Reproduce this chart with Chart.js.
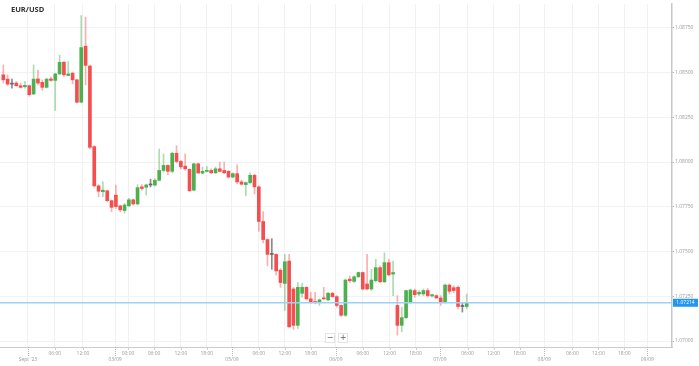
<!DOCTYPE html>
<html>
<head>
<meta charset="utf-8">
<title>EUR/USD</title>
<script src="https://cdn.jsdelivr.net/npm/chart.js@4.4.0/dist/chart.umd.min.js"></script>
<style>
    body { margin: 0; background: #fff; }
    #wrap { position: relative; width: 699px; height: 366px; }
    #title { position: absolute; left: 11px; top: 4px; font: bold 7.5px 'Open Sans', sans-serif; color: #333; }
    .zbtn { position: absolute; top: 333px; width: 8px; height: 8px; background: #fff; border: 1px solid #e4e4e4;
            font: 8px/8px 'DejaVu Sans', sans-serif; text-align: center; color: #666; }
</style>
</head>
<body>
<div id="wrap">
    <canvas id="chart" width="699" height="366"></canvas>
    <div id="title">EUR/USD</div>
    <div class="zbtn" style="left:325px">−</div>
    <div class="zbtn" style="left:338px">+</div>
</div>
<script>
// Mum verileri (saatlik)
const opens = [
    1.08487, 1.08463, 1.08435, 1.08441, 1.08426, 1.0842, 1.08426, 1.0838, 1.08464, 1.08445,
    1.08417, 1.08464, 1.08456, 1.08492, 1.08557, 1.08483, 1.08496, 1.08459, 1.08334, 1.08647,
    1.08536, 1.08086, 1.07867, 1.07834, 1.07839, 1.07784, 1.07815, 1.07755, 1.07729, 1.07756,
    1.07789, 1.07766, 1.07861, 1.07859, 1.07872, 1.07871, 1.07898, 1.07953, 1.07981, 1.07948,
    1.08049, 1.08003, 1.07977, 1.07959, 1.07843, 1.0799, 1.07938, 1.07948, 1.07953, 1.0794,
    1.07962, 1.07953, 1.07948, 1.07916, 1.07935, 1.07889, 1.07874, 1.07885, 1.07926, 1.07861,
    1.07668, 1.07567, 1.07484, 1.07484, 1.07396, 1.07322, 1.07447, 1.07291, 1.07088, 1.07267,
    1.073, 1.07236, 1.07221, 1.07217, 1.07241, 1.0723, 1.07267, 1.07248, 1.07199, 1.07144,
    1.07346, 1.07333, 1.07359, 1.07383, 1.07319, 1.07291, 1.07337, 1.0741, 1.07331, 1.07438,
    1.07374, 1.07199, 1.07088, 1.07131, 1.07217, 1.07282, 1.07263, 1.07263, 1.07282, 1.07252,
    1.07254, 1.07241, 1.07217, 1.07313, 1.07298, 1.073, 1.07193, 1.07193
];
const highs = [
    1.08542, 1.08487, 1.08463, 1.0845, 1.08441, 1.0845, 1.08431, 1.08542, 1.08514, 1.08459,
    1.08468, 1.08474, 1.08496, 1.08597, 1.08561, 1.08561, 1.085, 1.08463, 1.08818, 1.08809,
    1.08542, 1.08091, 1.07874, 1.07889, 1.07843, 1.07788, 1.07871, 1.0776, 1.07769, 1.07797,
    1.07793, 1.07874, 1.07874, 1.07876, 1.07904, 1.07907, 1.08073, 1.08045, 1.07984, 1.08054,
    1.08091, 1.0801, 1.08045, 1.07962, 1.07994, 1.07994, 1.07972, 1.07975, 1.07962, 1.07972,
    1.07999, 1.07999, 1.07953, 1.0794, 1.07984, 1.07898, 1.07889, 1.0794, 1.07931, 1.07867,
    1.07723, 1.07572, 1.07572, 1.07487, 1.07405, 1.07484, 1.07484, 1.073, 1.07327, 1.07322,
    1.07304, 1.07272, 1.07272, 1.07236, 1.073, 1.07272, 1.07272, 1.07254, 1.07203, 1.07346,
    1.07364, 1.07364, 1.07386, 1.07386, 1.07484, 1.07401, 1.07457, 1.0742, 1.07493, 1.07457,
    1.07447, 1.07254, 1.07189, 1.07285, 1.07291, 1.07291, 1.07282, 1.07291, 1.07294, 1.07263,
    1.07259, 1.07254, 1.07319, 1.07319, 1.07309, 1.07309, 1.07217, 1.07263
];
const lows = [
    1.08441, 1.08428, 1.08413, 1.08423, 1.08413, 1.08413, 1.08367, 1.08376, 1.08431, 1.084,
    1.08413, 1.0845, 1.08288, 1.08487, 1.08478, 1.08481, 1.08437, 1.0833, 1.0833, 1.08431,
    1.08073, 1.07861, 1.07806, 1.07806, 1.07778, 1.07723, 1.07741, 1.07723, 1.07714, 1.07751,
    1.0776, 1.0776, 1.07843, 1.07815, 1.07861, 1.07867, 1.07894, 1.07944, 1.07929, 1.0794,
    1.07995, 1.07962, 1.07953, 1.07837, 1.07839, 1.07948, 1.07935, 1.07944, 1.07935, 1.07935,
    1.07944, 1.07935, 1.07911, 1.07911, 1.07879, 1.07871, 1.07811, 1.07879, 1.07822, 1.07613,
    1.07548, 1.0742, 1.07401, 1.0737, 1.073, 1.07171, 1.07077, 1.07065, 1.0707, 1.07245,
    1.0723, 1.07211, 1.07208, 1.07199, 1.0723, 1.07226, 1.07245, 1.07189, 1.07138, 1.07138,
    1.07327, 1.07327, 1.07355, 1.07285, 1.07285, 1.07282, 1.07331, 1.07326, 1.07326, 1.07364,
    1.07254, 1.07033, 1.07051, 1.07125, 1.07211, 1.07245, 1.07254, 1.07254, 1.07245, 1.07245,
    1.07236, 1.07199, 1.07211, 1.07263, 1.0727, 1.0718, 1.07162, 1.0718
];
const closes = [
    1.08459, 1.08435, 1.08435, 1.08426, 1.08417, 1.08428, 1.08376, 1.08463, 1.08441, 1.08417,
    1.08463, 1.08456, 1.08492, 1.08557, 1.08487, 1.08492, 1.08459, 1.08334, 1.08639, 1.0854,
    1.08082, 1.07867, 1.07837, 1.07843, 1.07784, 1.07747, 1.07751, 1.07733, 1.0776, 1.07789,
    1.07766, 1.07857, 1.07852, 1.07872, 1.07872, 1.07898, 1.07953, 1.07981, 1.07948, 1.08049,
    1.08003, 1.07973, 1.07962, 1.07839, 1.0799, 1.07938, 1.07948, 1.07953, 1.0794, 1.07962,
    1.07948, 1.0794, 1.07916, 1.07935, 1.07889, 1.07876, 1.07885, 1.07926, 1.07861, 1.07668,
    1.07567, 1.07484, 1.07484, 1.07392, 1.07327, 1.07443, 1.07079, 1.07088, 1.073, 1.073,
    1.07236, 1.07217, 1.07215, 1.0723, 1.07236, 1.07267, 1.07248, 1.07199, 1.07144, 1.07341,
    1.07337, 1.07359, 1.07383, 1.07291, 1.07291, 1.07341, 1.0741, 1.07331, 1.07438, 1.0737,
    1.07383, 1.07088, 1.07131, 1.07282, 1.07285, 1.07259, 1.07272, 1.07282, 1.07254, 1.07259,
    1.07241, 1.07217, 1.07313, 1.07278, 1.07282, 1.07193, 1.07193, 1.07214
];

// Eksen etiketleri (mum sırasına göre konum)
const dayTickPos = [5.7, 25.8, 52.8, 76.8, 100.8, 124.9, 148.7];
const dayTickLabels = ["Sept '23", '03/09', '05/09', '06/09', '07/09', '08/09', '09/09'];
const timeTickPos = [11.9, 18.4, 28.8, 34.8, 41, 47, 59, 65, 71, 83, 89.2, 95.2, 107.2, 113.2, 119.2, 131.4, 137.4, 143.4];
const timeTickLabels = ['06:00', '12:00', '00:00', '06:00', '12:00', '18:00', '06:00', '12:00', '18:00',
    '06:00', '12:00', '18:00', '06:00', '12:00', '18:00', '06:00', '12:00', '18:00'];
const priceTicks = [1.07, 1.0725, 1.075, 1.0775, 1.08, 1.0825, 1.085, 1.0875];
const currentPrice = 1.07214;

const GREEN = '#4caf50';
const RED = '#f44f4f';
const GRAY = '#666';

// Etiketleri birleştir
const xTicks = dayTickPos.map((v, i) => ({ value: v, label: dayTickLabels[i], day: true }))
    .concat(timeTickPos.map((v, i) => ({ value: v, label: timeTickLabels[i], day: false })))
    .sort((a, b) => a.value - b.value);

function candleColor(i, alpha) {
    if (closes[i] > opens[i]) return alpha ? 'rgba(76,175,80,0.45)' : GREEN;
    if (closes[i] < opens[i]) return alpha ? 'rgba(244,79,79,0.45)' : RED;
    return alpha ? 'rgba(90,90,90,0.7)' : GRAY;
}

const idx = opens.map((_, i) => i);

const overlayPlugin = {
    id: 'overlay',
    afterDatasetsDraw(chart) {
        const { ctx, chartArea, scales } = chart;
        const py = scales.y.getPixelForValue(currentPrice);
        ctx.save();
        ctx.strokeStyle = '#9dd0f5';
        ctx.lineWidth = 1.5;
        ctx.beginPath();
        ctx.moveTo(chartArea.left, py);
        ctx.lineTo(chartArea.right, py);
        ctx.stroke();
        ctx.restore();
    },
    afterDraw(chart) {
        const { ctx, chartArea, scales } = chart;
        const bottom = chartArea.bottom;
        ctx.save();
        // x ekseni tik çizgileri
        xTicks.forEach(t => {
            const px = Math.round(scales.x.getPixelForValue(t.value)) + 0.5;
            ctx.beginPath();
            ctx.strokeStyle = t.day ? '#b5b5b5' : '#cfcfcf';
            ctx.lineWidth = 1;
            ctx.setLineDash(t.day ? [1, 1] : []);
            ctx.moveTo(px, bottom);
            ctx.lineTo(px, bottom + (t.day ? 10 : 3));
            ctx.stroke();
        });
        ctx.setLineDash([]);
        // güncel fiyat etiketi
        const py = scales.y.getPixelForValue(currentPrice);
        ctx.fillStyle = '#2196f3';
        ctx.fillRect(chartArea.right + 1, py - 4, 25, 8);
        ctx.fillStyle = '#fff';
        ctx.font = '5px "Open Sans"';
        ctx.textAlign = 'center';
        ctx.textBaseline = 'middle';
        ctx.fillText(currentPrice.toFixed(5), chartArea.right + 13.5, py);
        ctx.restore();
    }
};

new Chart(document.getElementById('chart'), {
    type: 'bar',
    data: {
        datasets: [
            {
                label: 'wick',
                data: idx.map(i => ({ x: i, y: [lows[i], highs[i]] })),
                backgroundColor: idx.map(i => candleColor(i, true)),
                barThickness: 1,
                grouped: false,
                order: 2
            },
            {
                label: 'body',
                data: idx.map(i => ({ x: i, y: [opens[i], closes[i]] })),
                backgroundColor: idx.map(i => candleColor(i, false)),
                barThickness: 3,
                minBarLength: 1,
                grouped: false,
                order: 1
            }
        ]
    },
    options: {
        responsive: false,
        animation: false,
        layout: { padding: 0 },
        plugins: { legend: { display: false }, tooltip: { enabled: false } },
        scales: {
            x: {
                type: 'linear',
                offset: false,
                min: -0.76,
                max: 154.4,
                afterBuildTicks: s => { s.ticks = xTicks.map(t => ({ value: t.value })); },
                afterFit: s => { s.height = 19; },
                ticks: {
                    autoSkip: false,
                    maxRotation: 0,
                    padding: 4,
                    color: '#9a9a9a',
                    font: { size: 5, family: 'Open Sans', lineHeight: 1.2 },
                    callback: (v, i) => xTicks[i].day ? ['', xTicks[i].label] : xTicks[i].label
                },
                grid: { color: '#f1f1f1', drawTicks: false, offset: false },
                border: { color: '#cccccc' }
            },
            y: {
                position: 'right',
                min: 1.069669,
                max: 1.088825,
                afterBuildTicks: s => { s.ticks = priceTicks.map(v => ({ value: v })); },
                afterFit: s => { s.width = 27; },
                ticks: {
                    padding: 1,
                    color: '#9a9a9a',
                    font: { size: 5, family: 'Open Sans' },
                    callback: v => v.toFixed(5)
                },
                grid: { color: '#f2f2f2', tickLength: 2, tickColor: '#b0b0b0' },
                border: { color: '#c8c8c8', width: 1.5 }
            }
        }
    },
    plugins: [overlayPlugin]
});
</script>
</body>
</html>
